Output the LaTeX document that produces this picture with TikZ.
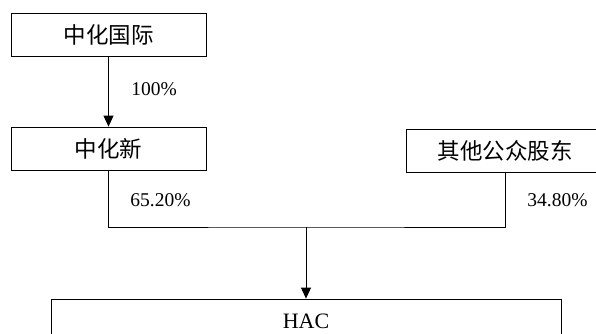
\documentclass[tikz,border=0pt]{standalone}
\usepackage{fontspec}
\setmainfont{Liberation Serif}
\newfontfamily\cjk{Noto Sans CJK SC}
\usetikzlibrary{arrows.meta}
\tikzset{
    > = {Triangle[length=11pt, width=10pt]},
    every path/.style = {line width=0.8pt},
    holder/.style = {draw, line width=0.8pt, minimum height=43pt, inner sep=0pt,
        font=\cjk\fontsize{22.5}{26}\selectfont},
    share/.style = {anchor=west, inner sep=0pt, font=\fontsize{19.5}{23}\selectfont}
}

\begin{document}
\begin{tikzpicture}[x=1pt, y=-1pt]
    \useasboundingbox (0, 0) rectangle (596, 334);

    \node[holder, minimum width=195pt] (zhgj) at (108.5, 34.5) {中化国际};
    \node[holder, minimum width=195pt] (zhx) at (108.5, 148.5) {中化新};
    \node[holder, minimum width=198pt] (qtgd) at (505, 150.5) {其他公众股东};
    \node[holder, minimum width=510pt, minimum height=44pt,
        font=\fontsize{22}{26}\selectfont] (hac) at (306, 321) {HAC};

    \coordinate (mid) at (306, 227);

    \draw[->] (zhgj) -- (zhx);
    \draw (zhx.south) |- (mid) -| (qtgd.south);
    \draw[->] (mid) -- (hac);

    \node[share] (p1) at (131, 89) {100\%};
    \node[share] (p2) at (130, 200) {65.20\%};
    \node[share] (p3) at (527, 200) {34.80\%};
\end{tikzpicture}
\end{document}
